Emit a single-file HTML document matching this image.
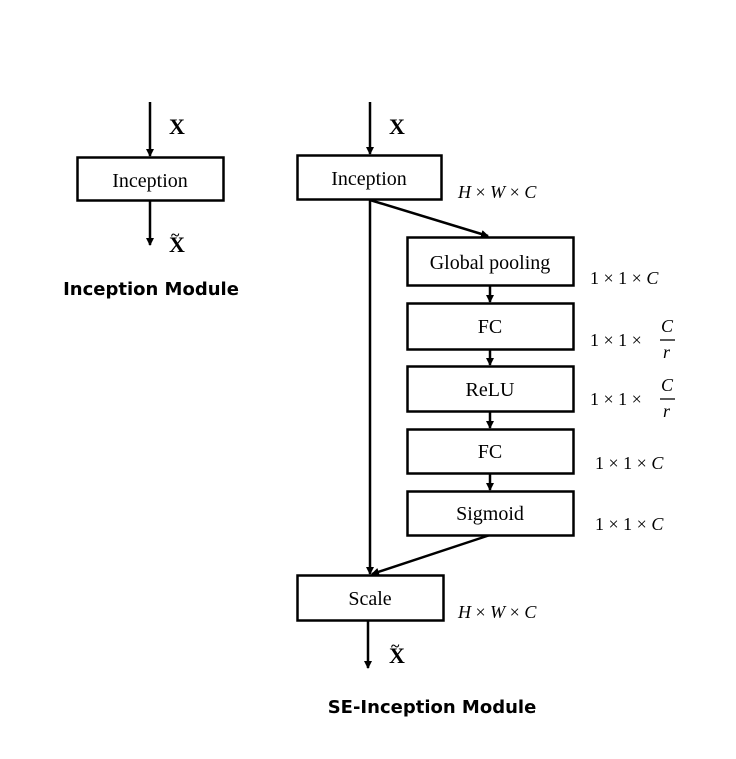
<!DOCTYPE html>
<html><head><style>body{margin:0;background:#fff}</style></head><body>
<svg width="736" height="754" viewBox="0 0 736 754" xmlns="http://www.w3.org/2000/svg">
<defs><marker id="a" markerWidth="8" markerHeight="8" refX="7" refY="4" orient="auto" markerUnits="userSpaceOnUse"><path d="M0,0 L8,4 L0,8 z" fill="#000"/></marker></defs>
<g font-family="Liberation Serif, serif" font-size="20" fill="#000">
<g stroke="#000" stroke-width="2.5" fill="none">
<line x1="150" y1="102" x2="150" y2="156" marker-end="url(#a)"/>
<line x1="150" y1="200" x2="150" y2="245" marker-end="url(#a)"/>
<rect x="77.5" y="157.5" width="146" height="43" fill="#fff"/>
<line x1="370" y1="102" x2="370" y2="154" marker-end="url(#a)"/>
<line x1="370" y1="199" x2="370" y2="574" marker-end="url(#a)"/>
<line x1="370" y1="200" x2="488" y2="236" marker-end="url(#a)"/>
<line x1="490" y1="535" x2="372" y2="574" marker-end="url(#a)"/>
<line x1="490" y1="285" x2="490" y2="302" marker-end="url(#a)"/>
<line x1="490" y1="349" x2="490" y2="365" marker-end="url(#a)"/>
<line x1="490" y1="411" x2="490" y2="428" marker-end="url(#a)"/>
<line x1="490" y1="473" x2="490" y2="490" marker-end="url(#a)"/>
<line x1="368" y1="620" x2="368" y2="668" marker-end="url(#a)"/>
<rect x="297.5" y="155.5" width="144" height="44" fill="#fff"/>
<rect x="407.5" y="237.5" width="166" height="48" fill="#fff"/>
<rect x="407.5" y="303.5" width="166" height="46" fill="#fff"/>
<rect x="407.5" y="366.5" width="166" height="45" fill="#fff"/>
<rect x="407.5" y="429.5" width="166" height="44" fill="#fff"/>
<rect x="407.5" y="491.5" width="166" height="44" fill="#fff"/>
<rect x="297.5" y="575.5" width="146" height="45" fill="#fff"/>
</g>
<text x="150" y="187" text-anchor="middle">Inception</text>
<text x="369" y="185" text-anchor="middle">Inception</text>
<text x="490" y="269" text-anchor="middle">Global pooling</text>
<text x="490" y="333" text-anchor="middle">FC</text>
<text x="490" y="396" text-anchor="middle">ReLU</text>
<text x="490" y="458" text-anchor="middle">FC</text>
<text x="490" y="520" text-anchor="middle">Sigmoid</text>
<text x="370" y="605" text-anchor="middle">Scale</text>
<g font-weight="bold" font-size="22">
<text x="169" y="134">X</text><text x="169" y="252">X</text><text x="171" y="240" font-size="16">~</text>
<text x="389" y="134">X</text><text x="389" y="663">X</text><text x="391" y="651" font-size="16">~</text>
</g>
<g font-size="18">
<text x="458" y="198"><tspan font-style="italic">H</tspan> × <tspan font-style="italic">W</tspan> × <tspan font-style="italic">C</tspan></text>
<text x="458" y="618"><tspan font-style="italic">H</tspan> × <tspan font-style="italic">W</tspan> × <tspan font-style="italic">C</tspan></text>
<text x="590" y="284">1 × 1 × <tspan font-style="italic">C</tspan></text>
<text x="590" y="346">1 × 1 ×</text>
<text x="661" y="332" font-style="italic">C</text><line x1="660" y1="340" x2="675" y2="340" stroke="#000" stroke-width="1.3"/><text x="663" y="358" font-style="italic">r</text>
<text x="590" y="405">1 × 1 ×</text>
<text x="661" y="391" font-style="italic">C</text><line x1="660" y1="399" x2="675" y2="399" stroke="#000" stroke-width="1.3"/><text x="663" y="417" font-style="italic">r</text>
<text x="595" y="469">1 × 1 × <tspan font-style="italic">C</tspan></text>
<text x="595" y="530">1 × 1 × <tspan font-style="italic">C</tspan></text>
</g>
<g font-family="DejaVu Sans, sans-serif" font-weight="bold" font-size="18">
<text x="151" y="295" text-anchor="middle">Inception Module</text>
<text x="432" y="713" text-anchor="middle">SE-Inception Module</text>
</g>
</g>
</svg>
</body></html>
